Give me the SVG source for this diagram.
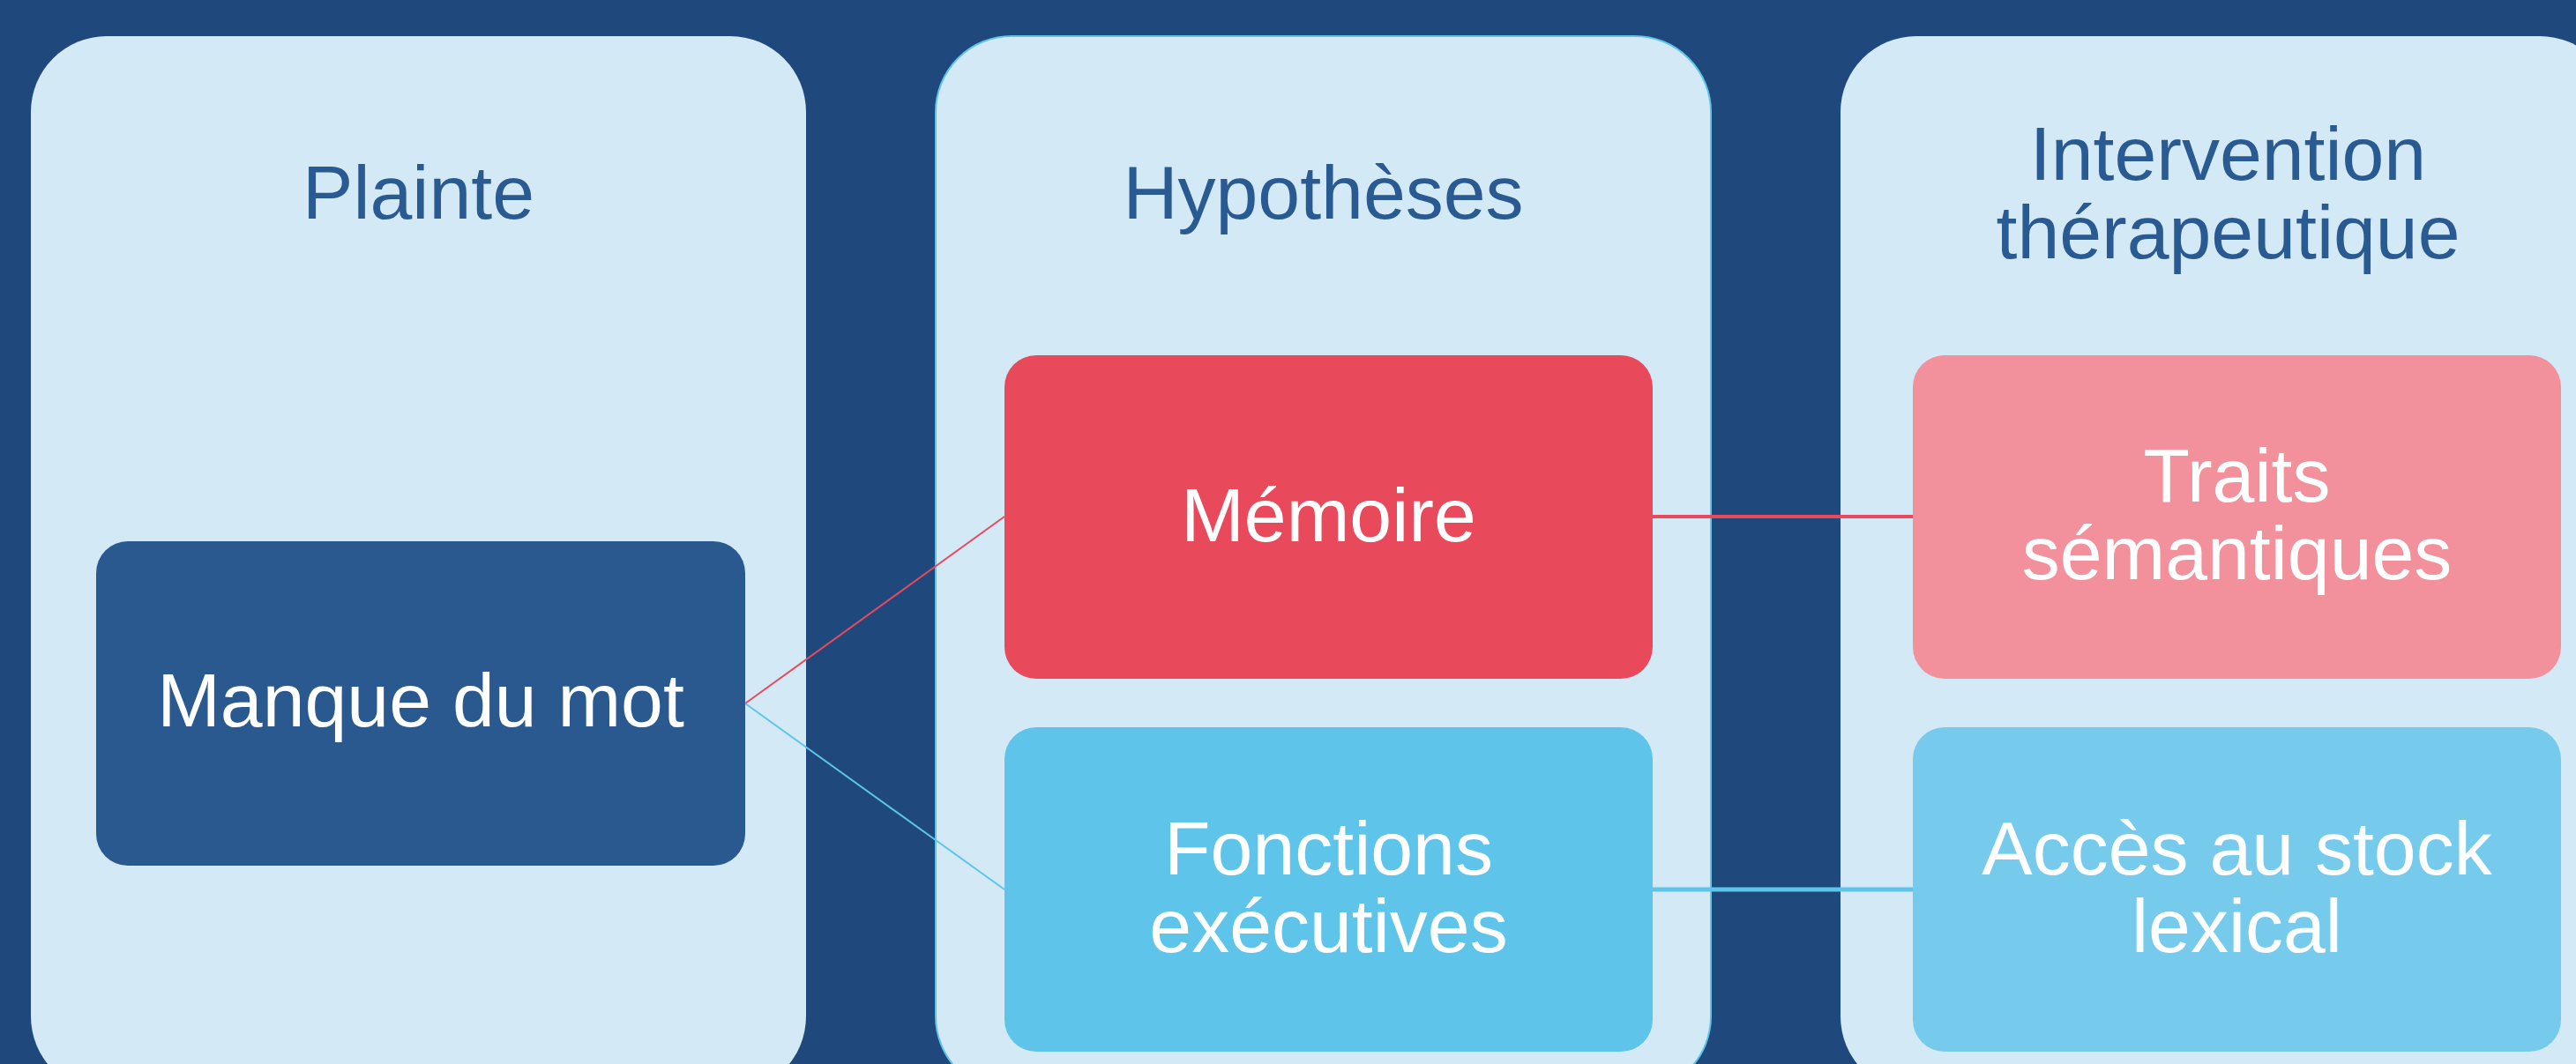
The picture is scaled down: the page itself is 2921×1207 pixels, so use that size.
<svg xmlns="http://www.w3.org/2000/svg" width="2921" height="1207" viewBox="0 0 2921 1207">
<style>
.col{fill:#D3E9F6}
.hdr{font-family:"Liberation Sans",Arial,sans-serif;font-size:86px;fill:#2A5A92;text-anchor:middle}
.lbl{font-family:"Liberation Sans",Arial,sans-serif;font-size:86px;fill:#FFFFFF;text-anchor:middle}
</style>
<rect x="0" y="0" width="2921" height="1207" fill="#1F497C"/>
<g id="col-plainte">
<rect class="col" x="35" y="41" width="879" height="1198" rx="86" ry="86"/>
<text class="hdr" x="474.5" y="248">Plainte</text>
</g>
<g id="col-hypotheses">
<rect class="col" x="1061" y="41" width="879" height="1198" rx="86" ry="86" stroke="#5EC4E9" stroke-width="2"/>
<text class="hdr" x="1500.5" y="248">Hypothèses</text>
</g>
<g id="col-intervention">
<rect class="col" x="2087" y="41" width="879" height="1198" rx="86" ry="86"/>
<text class="hdr" x="2526.5" y="204">Intervention</text>
<text class="hdr" x="2526.5" y="293">thérapeutique</text>
</g>
<g id="connectors" fill="none">
<line x1="845" y1="798" x2="1139" y2="586" stroke="#E84A5B" stroke-width="2"/>
<line x1="845" y1="798" x2="1139" y2="1009" stroke="#5EC4E9" stroke-width="2"/>
<line x1="1874" y1="586" x2="2169" y2="586" stroke="#E84A5B" stroke-width="4"/>
<line x1="1874" y1="1009" x2="2169" y2="1009" stroke="#5EC4E9" stroke-width="5"/>
</g>
<g id="node-manque">
<rect x="109" y="614" width="736" height="368" rx="36" ry="36" fill="#2A5990"/>
<text class="lbl" x="477" y="824">Manque du mot</text>
</g>
<g id="node-memoire">
<rect x="1139" y="403" width="735" height="367" rx="36" ry="36" fill="#E84A5B"/>
<text class="lbl" x="1506.5" y="614">Mémoire</text>
</g>
<g id="node-fonctions">
<rect x="1139" y="825" width="735" height="368" rx="36" ry="36" fill="#5EC4E9"/>
<text class="lbl" x="1506.5" y="992">Fonctions</text>
<text class="lbl" x="1506.5" y="1080">exécutives</text>
</g>
<g id="node-traits">
<rect x="2169" y="403" width="735" height="367" rx="36" ry="36" fill="#F2919B"/>
<text class="lbl" x="2536.5" y="569">Traits</text>
<text class="lbl" x="2536.5" y="657">sémantiques</text>
</g>
<g id="node-acces">
<rect x="2169" y="825" width="735" height="368" rx="36" ry="36" fill="#76CBEC"/>
<text class="lbl" x="2536.5" y="992">Accès au stock</text>
<text class="lbl" x="2536.5" y="1080">lexical</text>
</g>
</svg>
